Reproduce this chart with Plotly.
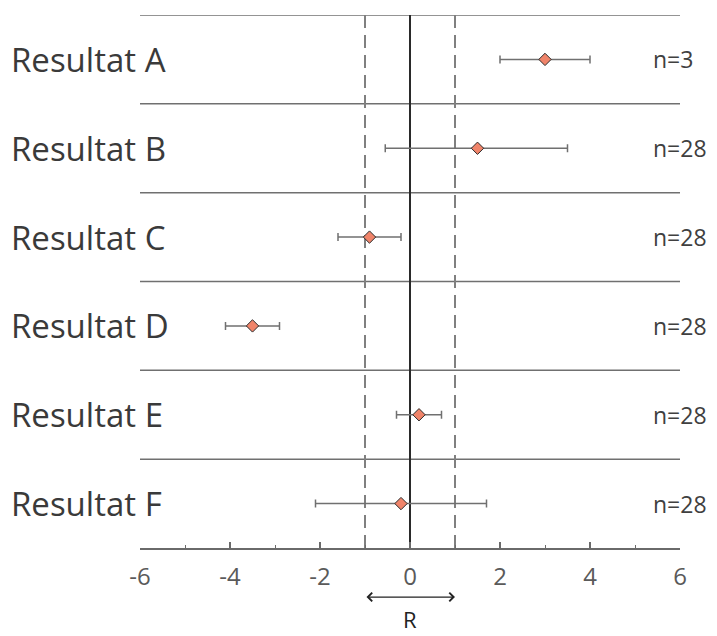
import plotly.graph_objects as go

categories = ["Resultat A", "Resultat B", "Resultat C", "Resultat D", "Resultat E", "Resultat F"]
estimates = [3.0, 1.5, -0.9, -3.5, 0.2, -0.2]
ci_low = [2.0, -0.55, -1.6, -4.1, -0.3, -2.1]
ci_high = [4.0, 3.5, -0.2, -2.9, 0.7, 1.7]
n_labels = ["n=3", "n=28", "n=28", "n=28", "n=28", "n=28"]
ref_band = [-1, 1]
x_ticks = [-6, -4, -2, 0, 2, 4, 6]

err_plus = [h - e for h, e in zip(ci_high, estimates)]
err_minus = [e - l for e, l in zip(estimates, ci_low)]

FONT = "Open Sans"

fig = go.Figure()
fig.add_trace(go.Scatter(
    x=estimates, y=categories, mode="markers",
    marker=dict(symbol="diamond", size=9.5, color="#F0846A",
                line=dict(color="#2b2b2b", width=1)),
    error_x=dict(type="data", symmetric=False, array=err_plus, arrayminus=err_minus,
                 color="#707070", thickness=1.5, width=4),
    showlegend=False, hoverinfo="x+y",
))

shapes = []
# horizontal separators between rows (top edge of each row)
for i in range(len(categories)):
    shapes.append(dict(type="line", xref="paper", x0=0, x1=1, yref="y",
                       y0=i - 0.5, y1=i - 0.5, line=dict(color="#707070", width=1.5),
                       layer="below"))
for v in ref_band:
    shapes.append(dict(type="line", xref="x", x0=v, x1=v, yref="paper", y0=0, y1=1,
                       line=dict(color="#808080", width=2, dash="13px,7px"), layer="below"))
shapes.append(dict(type="line", xref="x", x0=0, x1=0, yref="paper", y0=0, y1=1,
                   line=dict(color="#2a2a2a", width=2), layer="below"))

annotations = []
for c, n in zip(categories, n_labels):
    annotations.append(dict(xref="paper", x=-0.243, yref="y", y=c, text=c,
                            xanchor="left", yanchor="middle", showarrow=False,
                            font=dict(family=FONT, size=33, color="#3a3a3a")))
    annotations.append(dict(xref="paper", x=0.946, yref="y", y=c, text=n,
                            xanchor="left", yanchor="middle", showarrow=False,
                            font=dict(family=FONT, size=23, color="#404040")))
# double arrow under axis spanning the reference band
annotations.append(dict(xref="x", x=ref_band[1], axref="x", ax=ref_band[0],
                        yref="paper", y=-0.092, ayref="pixel", ay=0,
                        text="", showarrow=True, arrowside="end+start",
                        arrowhead=4, startarrowhead=4, arrowsize=1.4, startarrowsize=1.4,
                        arrowwidth=1.2, arrowcolor="#222222"))
annotations.append(dict(xref="x", x=0, yref="paper", y=-0.1335, text="R",
                        showarrow=False, xanchor="center", yanchor="middle",
                        borderpad=0,
                        font=dict(family=FONT, size=22, color="#222222")))

fig.update_layout(
    width=717, height=636,
    margin=dict(l=140, r=37, t=15, b=88),
    paper_bgcolor="white", plot_bgcolor="white",
    shapes=shapes, annotations=annotations,
    xaxis=dict(range=[-6, 6], tickvals=x_ticks, ticktext=[str(t) for t in x_ticks],
               showgrid=False, zeroline=False, showline=True, linecolor="#6a6a6a",
               linewidth=1.5, ticks="inside", ticklen=6, tickwidth=1.5, tickcolor="#6a6a6a",
               minor=dict(dtick=1, tick0=0, ticks="inside", ticklen=3, tickcolor="#6a6a6a",
                          tickwidth=1.2, showgrid=False),
               tickfont=dict(family=FONT, size=24, color="#5a5a5a"),
               ticklabelstandoff=6, fixedrange=True),
    yaxis=dict(type="category", categoryarray=categories, range=[5.5, -0.5],
               showticklabels=False, showgrid=False, zeroline=False, showline=False,
               ticks="", fixedrange=True),
)

fig.write_html("out.html", config={"displayModeBar": False},
               post_script="document.body.style.margin='0';document.body.style.overflow='hidden';")
